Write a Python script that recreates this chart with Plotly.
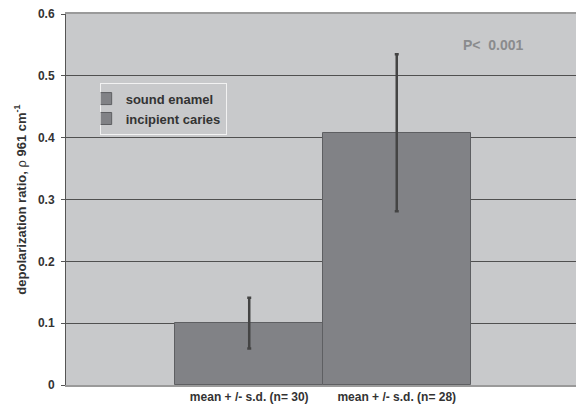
import plotly.graph_objects as go

series_names = ["sound enamel", "incipient caries"]
tick_labels = ["mean + /- s.d. (n= 30)", "mean + /- s.d. (n= 28)"]
means = [0.100, 0.408]
sds = [0.041, 0.127]
y_ticks = [0, 0.1, 0.2, 0.3, 0.4, 0.5, 0.6]
y_tick_labels = ["0", "0.1", "0.2", "0.3", "0.4", "0.5", "0.6"]

FONT = "Liberation Sans, Arial, sans-serif"
bar_color = "#818286"

fig = go.Figure()
for i, name in enumerate(series_names):
    fig.add_trace(go.Bar(
        x=[i], y=[means[i]], name="<b>%s</b>" % name, width=1.0,
        marker=dict(color=bar_color, line=dict(color="#5e5f62", width=1)),
        error_y=dict(type="data", array=[sds[i]], visible=True,
                     color="#444444", thickness=2.5, width=2),
    ))

fig.add_annotation(x=1.655, y=0.55, xref="x", yref="y", text="<b>P<  0.001</b>",
                   showarrow=False, font=dict(family=FONT, size=14, color="#8a8b8d"))

fig.update_layout(
    width=576, height=408,
    margin=dict(l=66, r=0, t=14, b=23, autoexpand=False),
    paper_bgcolor="white", plot_bgcolor="#c8c9cb",
    barmode="overlay", bargap=0,
    font=dict(family=FONT, size=12, color="#333333"),
    showlegend=True,
    legend=dict(x=0.066, y=0.815, xanchor="left", yanchor="top",
                bgcolor="#c8c9cb", bordercolor="#f2f2f2", borderwidth=1,
                font=dict(family=FONT, size=13, color="#333333"),
                tracegroupgap=0, itemwidth=30, indentation=-15),
    xaxis=dict(range=[-1.242, 2.215], tickvals=[0, 1], automargin=False,
               ticktext=["<b>%s</b>" % t for t in tick_labels],
               tickfont=dict(family=FONT, size=12, color="#333333"),
               showgrid=False, zeroline=False, showline=True,
               linecolor="#9a9a9a", linewidth=2, mirror=True, ticks=""),
    yaxis=dict(range=[0, 0.6], tickvals=y_ticks, automargin=False,
               ticktext=["<b>%s</b>" % t for t in y_tick_labels],
               tickfont=dict(family=FONT, size=12, color="#333333"),
               showgrid=True, gridcolor="#505050", gridwidth=1,
               zeroline=False, showline=True, linecolor="#555555", linewidth=1,
               ticks="outside", ticklen=4, tickcolor="#555555", ticklabelstandoff=4,
               title=dict(text="<b>depolarization ratio, </b>ρ<b> 961 cm<sup>-1</sup></b>",
                          font=dict(family=FONT, size=13, color="#333333"), standoff=8)),
)

fig.write_html("out.html", post_script="document.body.style.margin='0';",
               config={"displayModeBar": False})
